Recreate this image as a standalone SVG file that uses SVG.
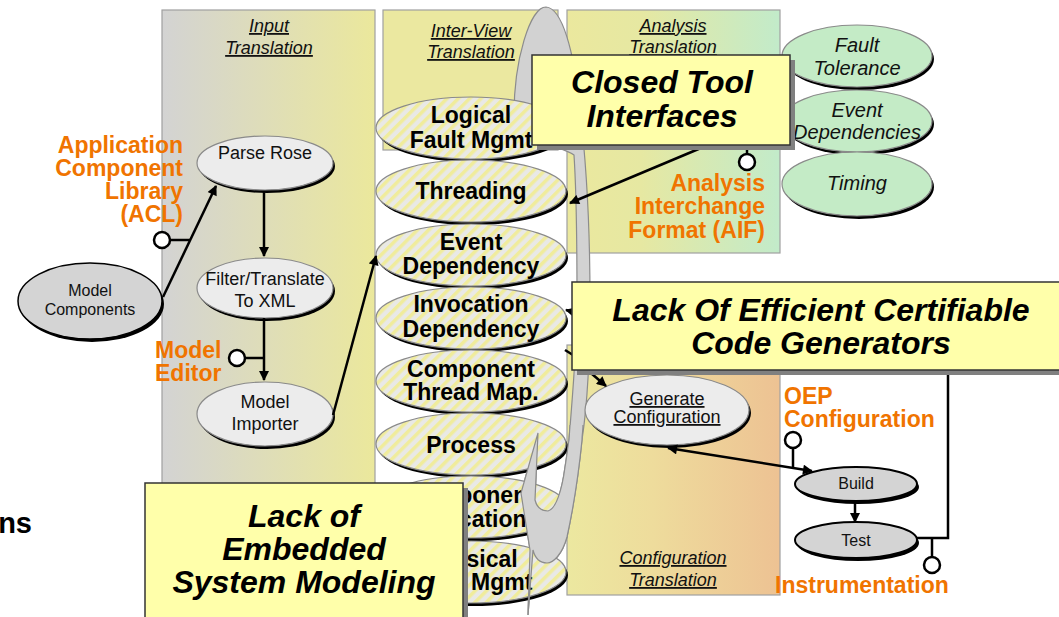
<svg xmlns="http://www.w3.org/2000/svg" width="1059" height="617" viewBox="0 0 1059 617">
<defs>
<style>
text{font-family:"Liberation Sans",Arial,sans-serif}
.panel{stroke:#a0a0a0;stroke-width:1.2}
.hdr{font-size:18px;font-style:italic;text-decoration:underline;text-anchor:middle;fill:#111}
.sh{fill:#000}
.ein{fill:#ececec;stroke:#8a8a8a;stroke-width:1.2}
.egr{fill:#c4ebc6;stroke:#8a8a8a;stroke-width:1.2}
.est{fill:url(#stripe);stroke:#8a8a8a;stroke-width:1.2}
.ebt{fill:#d4d4d4;stroke:#000;stroke-width:2}
.t18{font-size:18px;text-anchor:middle;fill:#111}
.t16{font-size:16px;text-anchor:middle;fill:#111}
.ti{font-size:20px;font-style:italic;text-anchor:middle;fill:#111}
.tb{font-size:23px;font-weight:bold;text-anchor:middle;fill:#000}
.or{font-size:23px;font-weight:bold;fill:#f07400}
.co{fill:#ffffaa;stroke:#333;stroke-width:1.5}
.cs{fill:#808080}
.ct{font-size:32px;font-weight:bold;font-style:italic;text-anchor:middle;fill:#000}
.ln{fill:none;stroke:#000;stroke-width:2.5}
.lol{fill:#fff;stroke:#000;stroke-width:2.5}
.gray{fill:#d2d2d2;stroke:#8c8c8c;stroke-width:1.2}
</style>
<linearGradient id="gIn" x1="0" y1="0" x2="1" y2="0">
<stop offset="0" stop-color="#d3d3d3"/><stop offset="1" stop-color="#ebe89c"/>
</linearGradient>
<linearGradient id="gAn" x1="0" y1="0" x2="1" y2="0">
<stop offset="0" stop-color="#ebe89e"/><stop offset="0.35" stop-color="#e6e8a2"/><stop offset="1" stop-color="#c2ebca"/>
</linearGradient>
<linearGradient id="gCf" x1="0" y1="0" x2="1" y2="0">
<stop offset="0" stop-color="#ece8a0"/><stop offset="0.4" stop-color="#eedc9c"/><stop offset="1" stop-color="#edc293"/>
</linearGradient>
<pattern id="stripe" width="8" height="8" patternUnits="userSpaceOnUse" patternTransform="rotate(45)">
<rect width="8" height="8" fill="#e9e9e6"/><rect width="3.5" height="8" fill="#f0ec9c"/>
</pattern>
<marker id="arr" viewBox="0 0 10 10" refX="9" refY="5" markerWidth="12" markerHeight="10" markerUnits="userSpaceOnUse" orient="auto-start-reverse">
<path d="M0,0 L10,5 L0,10 z" fill="#000"/>
</marker>
</defs>

<g id="panels">
<rect id="panel-input" class="panel" x="162" y="10" width="213" height="590" fill="url(#gIn)"/>
<rect id="panel-interview" class="panel" x="383" y="10" width="175" height="140" fill="#ebe8a0"/>
<rect id="panel-analysis" class="panel" x="567" y="10" width="213" height="243" fill="url(#gAn)"/>
<rect id="panel-config" class="panel" x="567" y="345" width="213" height="250" fill="url(#gCf)"/>
<text class="hdr" x="269" y="32">Input</text>
<text class="hdr" x="269" y="54">Translation</text>
<text class="hdr" x="471" y="37">Inter-View</text>
<text class="hdr" x="471" y="58">Translation</text>
<text class="hdr" x="673" y="32">Analysis</text>
<text class="hdr" x="673" y="53">Translation</text>
<text class="hdr" x="673" y="564">Configuration</text>
<text class="hdr" x="673" y="586">Translation</text>
</g>

<g id="gray-shape">
<path class="gray" d="M 546 7 C 562 8 574 50 580 110 C 586 160 590 230 590 300 C 590 360 588 400 582 440 C 579 470 575 500 567 537 C 562 555 553 563 547 563 C 540 563 535 558 533 550 L 528 615 L 530 550 L 521 493 L 538 433 L 535 500 C 537 508 542 511 548 511 C 556 509 562 490 565 467 C 567 455 568 445 569 440 C 572 400 577 350 577 300 C 577 230 576 185 574 155 C 560 145 514 140 514 115 C 514 60 530 7 546 7 Z"/>
</g>

<g id="node-model-components">
<ellipse class="sh" cx="92" cy="304" rx="72" ry="38"/>
<ellipse cx="90" cy="301" rx="72" ry="38" fill="#d4d4d4" stroke="#000" stroke-width="1.5"/>
<text class="t16" x="90" y="296">Model</text>
<text class="t16" x="90" y="315">Components</text>
</g>
<g id="node-parse-rose">
<ellipse class="sh" cx="267" cy="166" rx="68" ry="27"/>
<ellipse class="ein" cx="265" cy="163" rx="68" ry="27"/>
<text class="t18" x="265" y="159">Parse Rose</text>
</g>
<g id="node-filter">
<ellipse class="sh" cx="267" cy="291" rx="68" ry="30"/>
<ellipse class="ein" cx="265" cy="288" rx="68" ry="30"/>
<text class="t18" x="265" y="285">Filter/Translate</text>
<text class="t18" x="265" y="307">To XML</text>
</g>
<g id="node-model-importer">
<ellipse class="sh" cx="267" cy="417" rx="68" ry="32"/>
<ellipse class="ein" cx="265" cy="414" rx="68" ry="32"/>
<text class="t18" x="265" y="408">Model</text>
<text class="t18" x="265" y="430">Importer</text>
</g>

<g id="node-fault-tolerance">
<ellipse class="sh" cx="859" cy="59" rx="75" ry="31"/>
<ellipse class="egr" cx="857" cy="56" rx="75" ry="31"/>
<text class="ti" x="857" y="52">Fault</text>
<text class="ti" x="857" y="75">Tolerance</text>
</g>
<g id="node-event-dependencies">
<ellipse class="sh" cx="859" cy="124" rx="75" ry="31"/>
<ellipse class="egr" cx="857" cy="121" rx="75" ry="31"/>
<text class="ti" x="857" y="117">Event</text>
<text class="ti" x="857" y="139">Dependencies</text>
</g>
<g id="node-timing">
<ellipse class="sh" cx="859" cy="187" rx="75" ry="32"/>
<ellipse class="egr" cx="857" cy="184" rx="75" ry="32"/>
<text class="ti" x="857" y="190">Timing</text>
</g>

<g id="node-logical-fault">
<ellipse class="sh" cx="473" cy="131" rx="95" ry="31"/>
<ellipse class="est" cx="471" cy="128" rx="95" ry="31"/>
<text class="tb" x="471" y="123">Logical</text>
<text class="tb" x="471" y="148">Fault Mgmt</text>
</g>
<g id="node-threading">
<ellipse class="sh" cx="473" cy="194" rx="95" ry="31"/>
<ellipse class="est" cx="471" cy="191" rx="95" ry="31"/>
<text class="tb" x="471" y="199">Threading</text>
</g>
<g id="node-event-dependency">
<ellipse class="sh" cx="473" cy="258" rx="95" ry="31"/>
<ellipse class="est" cx="471" cy="255" rx="95" ry="31"/>
<text class="tb" x="471" y="250">Event</text>
<text class="tb" x="471" y="274">Dependency</text>
</g>
<g id="node-invocation-dependency">
<ellipse class="sh" cx="473" cy="321" rx="95" ry="31"/>
<ellipse class="est" cx="471" cy="318" rx="95" ry="31"/>
<text class="tb" x="471" y="312">Invocation</text>
<text class="tb" x="471" y="337">Dependency</text>
</g>
<g id="node-component-thread">
<ellipse class="sh" cx="473" cy="384" rx="95" ry="31"/>
<ellipse class="est" cx="471" cy="381" rx="95" ry="31"/>
<text class="tb" x="471" y="377">Component</text>
<text class="tb" x="471" y="400">Thread Map.</text>
</g>
<g id="node-process">
<ellipse class="sh" cx="473" cy="447" rx="95" ry="31"/>
<ellipse class="est" cx="471" cy="444" rx="95" ry="31"/>
<text class="tb" x="471" y="453">Process</text>
</g>
<g id="node-component-allocation">
<ellipse class="sh" cx="473" cy="510" rx="95" ry="31"/>
<ellipse class="est" cx="471" cy="507" rx="95" ry="31"/>
<text class="tb" x="471" y="503">Component</text>
<text class="tb" x="471" y="527">Allocation</text>
</g>
<g id="node-physical-fault">
<ellipse class="sh" cx="473" cy="575" rx="95" ry="31"/>
<ellipse class="est" cx="471" cy="572" rx="95" ry="31"/>
<text class="tb" x="471" y="567">Physical</text>
<text class="tb" x="471" y="590">Fault Mgmt</text>
</g>

<g id="node-generate-configuration">
<ellipse class="sh" cx="669" cy="413" rx="82" ry="35"/>
<ellipse class="ein" cx="667" cy="410" rx="82" ry="35"/>
<text class="t18" x="667" y="405" font-size="17" text-decoration="underline">Generate</text>
<text class="t18" x="667" y="423" font-size="17" text-decoration="underline">Configuration</text>
</g>
<g id="node-build">
<ellipse class="sh" cx="858" cy="487" rx="61" ry="17"/>
<ellipse class="ebt" cx="856" cy="484" rx="61" ry="17"/>
<text class="t16" x="856" y="489">Build</text>
</g>
<g id="node-test">
<ellipse class="sh" cx="858" cy="543" rx="61" ry="18"/>
<ellipse class="ebt" cx="856" cy="540" rx="61" ry="18"/>
<text class="t16" x="856" y="546">Test</text>
</g>

<g id="gray-hook">
<path fill="#d2d2d2" d="M 583 425 C 583 430 582 435 582 440 C 579 470 575 500 567 537 C 562 555 553 563 547 563 C 540 563 535 558 533 550 L 528 615 L 530 550 L 521 493 L 538 433 L 535 500 C 537 508 542 511 548 511 C 556 509 562 490 565 467 C 567 455 568 445 569 440 L 570 425 Z"/>
<path fill="none" stroke="#8c8c8c" stroke-width="1.2" d="M 583 425 C 583 430 582 435 582 440 C 579 470 575 500 567 537 C 562 555 553 563 547 563 C 540 563 535 558 533 550 L 528 615 L 530 550 L 521 493 L 538 433 L 535 500 C 537 508 542 511 548 511 C 556 509 562 490 565 467 C 567 455 568 445 569 440 L 570 425"/>
</g>

<g id="connectors">
<path class="ln" d="M 163 297 L 216 186" marker-end="url(#arr)"/>
<path class="ln" d="M 264 192 L 264 256" marker-end="url(#arr)"/>
<path class="ln" d="M 264 318 L 264 380" marker-end="url(#arr)"/>
<path class="ln" d="M 333 415 L 376 256" marker-end="url(#arr)"/>
<path class="ln" d="M 720 140 L 570 203" marker-end="url(#arr)"/>
<path class="ln" d="M 605 320 L 566 310" marker-end="url(#arr)"/>
<path class="ln" d="M 565 350 L 600 372"/>
<path class="ln" d="M 585 368 L 606 386" marker-end="url(#arr)"/>
<path class="ln" d="M 668 448 L 812 471" marker-start="url(#arr)" marker-end="url(#arr)"/>
<path class="ln" d="M 855 502 L 855 522" marker-end="url(#arr)"/>
<path class="ln" d="M 948 360 L 948 538 L 916 538"/>
<path class="ln" d="M 170 240 L 190 240"/>
<circle class="lol" cx="162" cy="240" r="8"/>
<path class="ln" d="M 245 358 L 264 358"/>
<circle class="lol" cx="237" cy="358" r="8"/>
<path class="ln" d="M 747 154 L 747 145"/>
<circle class="lol" cx="747" cy="162" r="8"/>
<path class="ln" d="M 793 448 L 793 468"/>
<circle class="lol" cx="793" cy="440" r="8"/>
<path class="ln" d="M 932 538 L 932 557"/>
<circle class="lol" cx="932" cy="565" r="8"/>
</g>

<g id="labels">
<text class="or" x="183" y="153" text-anchor="end">Application</text>
<text class="or" x="183" y="176" text-anchor="end">Component</text>
<text class="or" x="183" y="199" text-anchor="end">Library</text>
<text class="or" x="183" y="222" text-anchor="end">(ACL)</text>
<text class="or" x="155" y="358">Model</text>
<text class="or" x="155" y="381">Editor</text>
<text class="or" x="765" y="191" text-anchor="end">Analysis</text>
<text class="or" x="765" y="214" text-anchor="end">Interchange</text>
<text class="or" x="765" y="238" text-anchor="end">Format (AIF)</text>
<text class="or" x="784" y="404">OEP</text>
<text class="or" x="784" y="427">Configuration</text>
<text class="or" x="775" y="593">Instrumentation</text>
</g>

<g id="callout-closed-tool">
<rect class="cs" x="537" y="60" width="258" height="90"/>
<rect class="co" x="532" y="55" width="258" height="90"/>
<text class="ct" x="662" y="93">Closed Tool</text>
<text class="ct" x="662" y="127">Interfaces</text>
</g>
<g id="callout-code-generators">
<rect class="cs" x="577" y="287" width="490" height="88"/>
<rect class="co" x="572" y="282" width="490" height="88"/>
<text class="ct" x="821" y="321" font-size="33">Lack Of Efficient Certifiable</text>
<text class="ct" x="821" y="354" font-size="33">Code Generators</text>
</g>
<g id="callout-embedded">
<rect class="cs" x="150" y="488" width="318" height="140"/>
<rect class="co" x="145" y="483" width="318" height="140"/>
<text class="ct" x="304" y="527">Lack of</text>
<text class="ct" x="304" y="560">Embedded</text>
<text class="ct" x="304" y="593">System Modeling</text>
</g>

<text x="32" y="533" text-anchor="end" font-size="29" font-weight="bold" fill="#000">ns</text>
</svg>
